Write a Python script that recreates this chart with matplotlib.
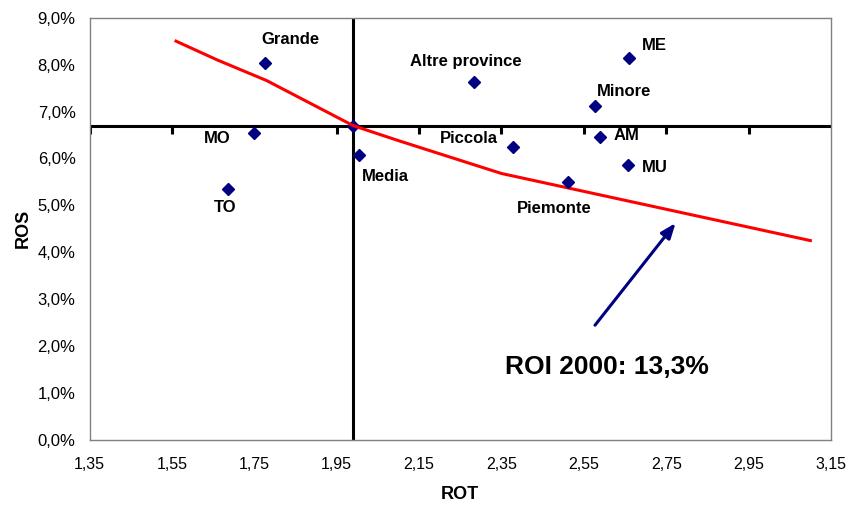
import matplotlib.pyplot as plt
from matplotlib.ticker import FuncFormatter

# ROT / ROS per segment
names = ["Grande", "MO", "TO", "Media", "Altre province", "ME",
         "Minore", "AM", "Piccola", "MU", "Piemonte"]
rot = [1.776, 1.750, 1.687, 2.005, 2.283, 2.660, 2.577, 2.589, 2.379, 2.658, 2.512]
ros = [8.04, 6.54, 5.35, 6.08, 7.62, 8.14, 7.11, 6.45, 6.25, 5.86, 5.49]

# average point (axes cross here)
avg_rot = 1.99
avg_ros = 6.70

# iso-ROI curve (13,3%)
roi_rot = [1.56, 1.66, 1.78, 1.885, 1.99, 2.10, 2.35, 3.10]
roi_ros = [8.50, 8.10, 7.66, 7.18, 6.70, 6.38, 5.68, 4.25]

xticks = [1.35, 1.55, 1.75, 1.95, 2.15, 2.35, 2.55, 2.75, 2.95, 3.15]
yticks = [0, 1, 2, 3, 4, 5, 6, 7, 8, 9]

# label offsets in points
offsets = {"Grande": (18, 17), "MO": (-27, -4), "TO": (-2, -13),
           "Media": (19, -16), "Altre province": (-6, 15), "ME": (18, 9),
           "Minore": (21, 11), "AM": (19, 1), "Piccola": (-32, 6),
           "MU": (19, -2), "Piemonte": (-10, -19)}


def main():
    plt.rcParams['font.family'] = ['Liberation Sans', 'DejaVu Sans']
    fig = plt.figure(figsize=(8.5, 5.11), dpi=100)
    ax = fig.add_axes([0.1053, 0.1389, 0.9776 - 0.1053, 0.9654 - 0.1389])

    ax.set_xlim(1.35, 3.15)
    ax.set_ylim(0, 9)
    ax.set_xticks(xticks)
    ax.set_yticks(yticks)
    ax.xaxis.set_major_formatter(FuncFormatter(lambda v, p: f"{v:.2f}".replace(".", ",")))
    ax.yaxis.set_major_formatter(FuncFormatter(lambda v, p: f"{v:.1f}%".replace(".", ",")))
    ax.tick_params(axis='x', length=0, pad=12, labelsize=11.5)
    ax.tick_params(axis='y', length=0, pad=10, labelsize=12)
    for s in ax.spines.values():
        s.set_color('#808080')
        s.set_linewidth(1)

    # crossing axes
    ax.axhline(avg_ros, color='black', lw=2.2, zorder=2)
    ax.axvline(avg_rot, color='black', lw=2.2, zorder=2)
    ax.plot(xticks[:-1], [avg_ros] * (len(xticks) - 1), ls='none', marker=3,
            ms=6, mew=2.2, color='black', zorder=2)

    ax.plot(roi_rot, roi_ros, color='#ff0000', lw=2.2, zorder=3)

    ax.plot(rot, ros, ls='none', marker='D', ms=6, color='#000080', zorder=4)
    ax.plot([avg_rot], [avg_ros], ls='none', marker='D', ms=6, color='#000080', zorder=2.5)
    for n, x, y in zip(names, rot, ros):
        ax.annotate(n, (x, y), xytext=offsets[n], textcoords='offset points',
                    ha='center', va='center', fontsize=12, fontweight='bold')

    ax.annotate("", xy=(2.777, 4.67), xytext=(2.573, 2.40),
                arrowprops=dict(arrowstyle='-|>,head_length=0.9,head_width=0.35',
                                color='#000080', lw=2.2))
    ax.text(2.605, 1.56, "ROI 2000: 13,3%", ha='center', va='center',
            fontsize=19, fontweight='bold')

    ax.set_xlabel("ROT", fontsize=13, fontweight='bold', labelpad=10)
    ax.set_ylabel("ROS", fontsize=13, fontweight='bold', labelpad=4)

    fig.savefig("out.png", dpi=100)


if __name__ == "__main__":
    main()
